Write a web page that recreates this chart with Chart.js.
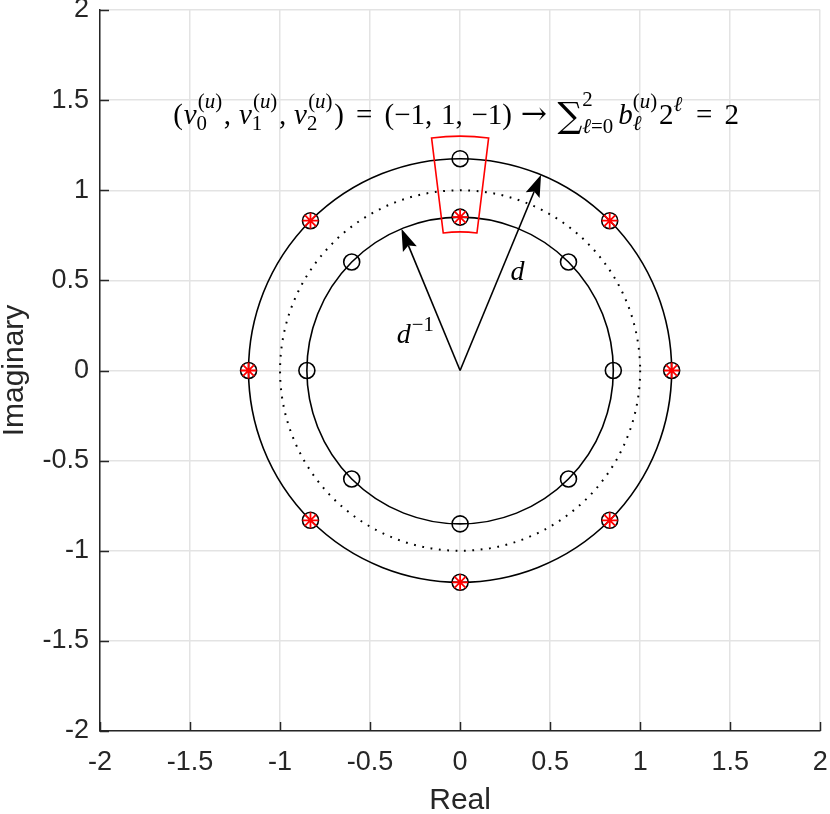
<!DOCTYPE html>
<html><head><meta charset="utf-8">
<script src="https://cdn.jsdelivr.net/npm/chart.js@4/dist/chart.umd.min.js"></script>
<style>html,body{margin:0;padding:0;background:#fff;}canvas{display:block;}</style>
</head><body>
<canvas id="c" width="830" height="814"></canvas>
<script>
// ---- data ----
const tickValues = [-2, -1.5, -1, -0.5, 0, 0.5, 1, 1.5, 2];
const xTickLabels = ['-2', '-1.5', '-1', '-0.5', '0', '0.5', '1', '1.5', '2'];
const yTickLabels = ['-2', '-1.5', '-1', '-0.5', '0', '0.5', '1', '1.5', '2'];
// candidate points on the outer ring (radius d)
const outerX = [1.175, 0.831, 0, -0.831, -1.175, -0.831, 0, 0.831];
const outerY = [0, 0.831, 1.175, 0.831, 0, -0.831, -1.175, -0.831];
// candidate points on the inner ring (radius 1/d)
const innerX = [0.851, 0.602, 0, -0.602, -0.851, -0.602, 0, 0.602];
const innerY = [0, 0.602, 0.851, 0.602, 0, -0.602, -0.851, -0.602];
// selected (transmitted) points
const selX = [1.175, 0.831, 0, -0.831, -1.175, -0.831, 0, 0.831];
const selY = [0, 0.831, 0.851, 0.831, 0, -0.831, -1.175, -0.831];
// rings
const solidRadii = [1.175, 0.851];
const dottedRadii = [1];
// highlighted sector: radii and angles (deg)
const sectorRadii = [0.769, 1.3];
const sectorAngles = [83, 97];
// arrows (tips, from origin)
const arrowTipX = [0.4497, -0.3257];
const arrowTipY = [1.0856, 0.7862];
// text annotation anchors (data coords)
const dLabelPos = [0.28, 0.50];
const dInvLabelPos = [-0.352, 0.15];
const formulaPos = [-0.022, 1.368];

const SANS = '"Liberation Sans", Arial, Helvetica, sans-serif';
const SERIF = '"Liberation Serif", "DejaVu Serif", serif';
const DJV = '"DejaVu Serif", serif';
const AX = '#262626';

function fnt(sz, it, fam) { return (it ? 'italic ' : '') + sz.toFixed(2) + 'px ' + (fam || SERIF); }
function pw(ctx, ps, sz) { let w = 0; for (const [t, it, f] of ps) { ctx.font = fnt(sz, it, f); w += ctx.measureText(t).width; } return w; }
function dp(ctx, ps, x, y, sz) { for (const [t, it, f] of ps) { ctx.font = fnt(sz, it, f); ctx.fillText(t, x, y); x += ctx.measureText(t).width; } return x; }
const R = t => [t, false], I = t => [t, true], D = t => [t, false, DJV];
const U = [R('('), I('u'), R(')')];

function layoutMath(ctx, items, sz, draw, x0, y0) {
  let x = x0;
  for (const it of items) {
    const bs = sz * (it.k || 1);
    x += (it.before || 0) * sz;
    const bw = pw(ctx, it.p, bs);
    if (draw) dp(ctx, it.p, x, y0 + (it.dy || 0) * sz, bs);
    x += bw + (it.gap || 0) * sz;
    const ss = sz * 0.72;
    let sw = 0;
    if (it.sup) {
      const w = pw(ctx, it.sup, ss);
      const sh = it.supSh != null ? it.supSh : 0.55;
      if (draw) dp(ctx, it.sup, x + (it.supDx || 0) * sz, y0 - sz * sh, ss);
      sw = Math.max(sw, w + (it.supDx || 0) * sz);
    }
    if (it.sub) {
      const w = pw(ctx, it.sub, ss);
      const sh = it.subSh != null ? it.subSh : 0.21;
      if (draw) dp(ctx, it.sub, x, y0 + sz * sh, ss);
      sw = Math.max(sw, w);
    }
    if (sw) sw += 0.06 * sz;
    x += sw + (it.after || 0) * sz;
  }
  return x - x0;
}

const formula = [
  {p: [R('(')], after: 0.03},
  {p: [I('v')], sup: U, sub: [R('0')], supDx: 0.04},
  {p: [R(',')], after: 0.27},
  {p: [I('v')], sup: U, sub: [R('1')], supDx: 0.04},
  {p: [R(',')], after: 0.27},
  {p: [I('v')], sup: U, sub: [R('2')], supDx: 0.04},
  {p: [R(')')], after: 0.42},
  {p: [R('=')], after: 0.42},
  {p: [R('(\u22121,')], after: 0.3},
  {p: [R('1,')], after: 0.3},
  {p: [R('\u22121)')], after: 0.3},
  {p: [D('\u2192')], k: 1.08, after: 0.36},
  {p: [D('\u2211')], k: 1.2, dy: 0.12, sup: [R('2')], sub: [I('\u2113'), R('=0')], supSh: 0.62, subSh: 0.3, after: 0.12},
  {p: [I('b')], sup: U, sub: [I('\u2113')]},
  {p: [R('2')], sup: [I('\u2113')], supSh: 0.45, after: 0.42},
  {p: [R('=')], after: 0.42},
  {p: [R('2')]}
];

const decor = {
  id: 'decor',
  beforeDatasetsDraw(chart) {
    const ctx = chart.ctx, xs = chart.scales.x, ys = chart.scales.y;
    const cx = xs.getPixelForValue(0), cy = ys.getPixelForValue(0);
    const rx = r => xs.getPixelForValue(r) - cx;
    const ry = r => cy - ys.getPixelForValue(r);
    ctx.save();
    ctx.strokeStyle = '#000';
    ctx.lineWidth = 1.6;
    for (const r of solidRadii) {
      ctx.beginPath(); ctx.ellipse(cx, cy, rx(r), ry(r), 0, 0, Math.PI * 2); ctx.stroke();
    }
    ctx.setLineDash([1.8, 6.6]);
    ctx.lineWidth = 2;
    for (const r of dottedRadii) {
      ctx.beginPath(); ctx.ellipse(cx, cy, rx(r), ry(r), 0, 0, Math.PI * 2); ctx.stroke();
    }
    ctx.setLineDash([]);
    // sector
    const a1 = sectorAngles[0] * Math.PI / 180, a2 = sectorAngles[1] * Math.PI / 180;
    const [ri, ro] = sectorRadii;
    ctx.strokeStyle = '#ff0000';
    ctx.lineWidth = 1.6;
    ctx.beginPath();
    ctx.ellipse(cx, cy, rx(ro), ry(ro), 0, -a1, -a2, true);
    ctx.lineTo(xs.getPixelForValue(ri * Math.cos(a2)), ys.getPixelForValue(ri * Math.sin(a2)));
    ctx.ellipse(cx, cy, rx(ri), ry(ri), 0, -a2, -a1, false);
    ctx.closePath();
    ctx.stroke();
    // arrows
    ctx.strokeStyle = '#000'; ctx.fillStyle = '#000'; ctx.lineWidth = 1.6;
    for (let i = 0; i < arrowTipX.length; i++) {
      const tx = xs.getPixelForValue(arrowTipX[i]), ty = ys.getPixelForValue(arrowTipY[i]);
      const dx = tx - cx, dy = ty - cy, L = Math.hypot(dx, dy);
      const ux = dx / L, uy = dy / L, nx = -uy, ny = ux;
      const hl = 22, hw = 7.5, notch = 4;
      ctx.beginPath(); ctx.moveTo(cx, cy); ctx.lineTo(tx - ux * (hl - notch), ty - uy * (hl - notch)); ctx.stroke();
      ctx.beginPath();
      ctx.moveTo(tx, ty);
      ctx.lineTo(tx - ux * hl + nx * hw, ty - uy * hl + ny * hw);
      ctx.lineTo(tx - ux * (hl - notch), ty - uy * (hl - notch));
      ctx.lineTo(tx - ux * hl - nx * hw, ty - uy * hl - ny * hw);
      ctx.closePath(); ctx.fill();
    }
    ctx.restore();
  },
  afterDraw(chart) {
    const ctx = chart.ctx, xs = chart.scales.x, ys = chart.scales.y, ca = chart.chartArea;
    ctx.save();
    // inward ticks
    ctx.strokeStyle = AX; ctx.lineWidth = 1.5;
    ctx.beginPath();
    for (const v of tickValues) {
      const px = Math.round(xs.getPixelForValue(v)) + 0.5;
      ctx.moveTo(px, ca.bottom); ctx.lineTo(px, ca.bottom - 9);
      const py = Math.round(ys.getPixelForValue(v)) + 0.5;
      ctx.moveTo(ca.left, py); ctx.lineTo(ca.left + 9, py);
    }
    ctx.stroke();
    // labels
    ctx.fillStyle = '#000';
    ctx.textBaseline = 'alphabetic'; ctx.textAlign = 'left';
    const S = 28;
    ctx.font = fnt(S, true);
    ctx.fillText('d', xs.getPixelForValue(dLabelPos[0]), ys.getPixelForValue(dLabelPos[1]));
    let x = xs.getPixelForValue(dInvLabelPos[0]), y = ys.getPixelForValue(dInvLabelPos[1]);
    ctx.font = fnt(S, true); ctx.fillText('d', x, y);
    x += ctx.measureText('d').width + 1;
    dp(ctx, [R('\u22121')], x, y - 12, S * 0.74);
    // formula
    const FS = 29;
    const W = layoutMath(ctx, formula, FS, false, 0, 0);
    const fx = xs.getPixelForValue(formulaPos[0]) - W / 2;
    const fy = ys.getPixelForValue(formulaPos[1]);
    layoutMath(ctx, formula, FS, true, fx, fy);
    ctx.restore();
  }
};

const pts = (xa, ya) => xa.map((v, i) => ({x: v, y: ya[i]}));

function axisCfg(labels, titleText, isX) {
  return {
    type: 'linear', min: -2, max: 2,
    position: isX ? 'bottom' : 'left',
    afterBuildTicks: s => { s.ticks = tickValues.map(v => ({value: v})); },
    ticks: {
      callback: (v, i) => labels[i],
      font: {family: SANS, size: 27},
      color: AX, padding: isX ? 15 : 11, maxRotation: 0, minRotation: 0, autoSkip: false
    },
    grid: {color: '#e3e3e3', lineWidth: 1.5, drawTicks: false},
    border: {color: AX, width: 1.5},
    title: {display: true, text: titleText, color: AX, padding: 0,
      font: {family: SANS, size: 30, lineHeight: isX ? 0.9 : 1.0}},
    afterFit: s => {
      if (isX) { s.height = 83; s.paddingLeft = 0; s.paddingRight = 0; }
      else { s.width = 100; s.paddingTop = 0; s.paddingBottom = 0; }
    }
  };
}

new Chart(document.getElementById('c'), {
  type: 'scatter',
  data: {
    datasets: [
      {label: 'selected', data: pts(selX, selY), pointStyle: 'star', pointRadius: 8,
        borderColor: '#ff0000', backgroundColor: 'rgba(0,0,0,0)', borderWidth: 1.8},
      {label: 'outer', data: pts(outerX, outerY), pointStyle: 'circle', pointRadius: 8,
        borderColor: '#000', backgroundColor: 'rgba(0,0,0,0)', borderWidth: 1.6},
      {label: 'inner', data: pts(innerX, innerY), pointStyle: 'circle', pointRadius: 8,
        borderColor: '#000', backgroundColor: 'rgba(0,0,0,0)', borderWidth: 1.6}
    ]
  },
  options: {
    responsive: false, animation: false, devicePixelRatio: 1,
    layout: {padding: {left: 0, top: 10, right: 9, bottom: 0}},
    plugins: {legend: {display: false}, tooltip: {enabled: false}},
    events: [],
    scales: {x: axisCfg(xTickLabels, 'Real', true), y: axisCfg(yTickLabels, 'Imaginary', false)}
  },
  plugins: [decor]
});
</script>
</body></html>
